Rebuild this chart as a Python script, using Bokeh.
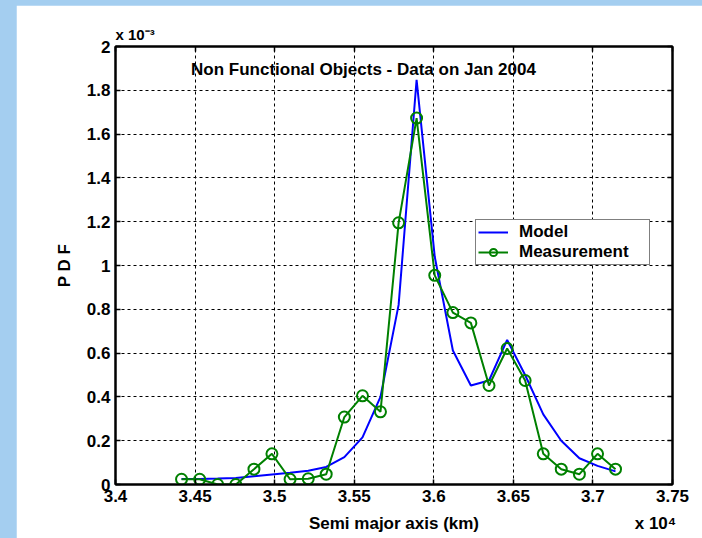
from bokeh.plotting import figure
from bokeh.models import Range1d, FixedTicker, LinearAxis, Label, Legend, LegendItem, Title
from bokeh.layouts import column
from bokeh.embed import file_html
from bokeh.resources import INLINE

# ---- data (x in units of 10^4 km, PDF in units of 10^-3) ----
semi_major_axis = [3.4415, 3.4529, 3.4642, 3.4756, 3.4870, 3.4983, 3.5097, 3.5211,
                   3.5324, 3.5438, 3.5552, 3.5665, 3.5779, 3.5892, 3.6006, 3.6120,
                   3.6233, 3.6347, 3.6461, 3.6574, 3.6688, 3.6801, 3.6915, 3.7029, 3.7142]
model_pdf = [0.025, 0.025, 0.027, 0.030, 0.038, 0.046, 0.054, 0.063, 0.080, 0.125,
             0.215, 0.400, 0.820, 1.848, 1.040, 0.612, 0.452, 0.475, 0.660, 0.500,
             0.320, 0.200, 0.120, 0.085, 0.060]
measurement_pdf = [0.024, 0.024, 0.000, 0.000, 0.070, 0.140, 0.024, 0.026, 0.047, 0.308,
                   0.405, 0.332, 1.195, 1.673, 0.955, 0.785, 0.738, 0.452, 0.621, 0.475,
                   0.140, 0.070, 0.047, 0.140, 0.070]

x_ticks = [3.4, 3.45, 3.5, 3.55, 3.6, 3.65, 3.7, 3.75]
x_tick_labels = ["3.4", "3.45", "3.5", "3.55", "3.6", "3.65", "3.7", "3.75"]
y_ticks = [0, 0.2, 0.4, 0.6, 0.8, 1, 1.2, 1.4, 1.6, 1.8, 2]
y_tick_labels = ["0", "0.2", "0.4", "0.6", "0.8", "1", "1.2", "1.4", "1.6", "1.8", "2"]

title_text = "Non Functional Objects - Data on Jan 2004"
x_label = "Semi major axis (km)"
y_label = "P D F"
x_multiplier = "x 10\u2074"
y_multiplier = "x 10\u207b\u00b3"
series_names = ["Model", "Measurement"]

FONT = "Liberation Sans"
BLUE = "#0000ff"
GREEN = "#008000"

p = figure(width=686, height=533, x_range=Range1d(3.4, 3.75), y_range=Range1d(0, 2),
           output_backend="svg", toolbar_location=None,
           min_border_left=99, min_border_right=30, min_border_top=41, min_border_bottom=54,
           background_fill_color="white", border_fill_color="white",
           outline_line_color="black", outline_line_width=2)

def style_axis(ax, ticks, labels, show_labels=True):
    ax.ticker = FixedTicker(ticks=ticks)
    ax.major_label_overrides = dict(zip(ticks, labels))
    ax.major_tick_in = 5
    ax.major_tick_out = 0
    ax.major_tick_line_width = 1.5
    ax.major_tick_line_color = "black"
    ax.minor_tick_line_color = None
    ax.axis_line_color = "black"
    ax.axis_line_width = 2
    ax.major_label_text_font = FONT
    ax.major_label_text_font_style = "bold"
    ax.major_label_text_color = "black"
    if show_labels:
        ax.major_label_text_font_size = "17px"
    else:
        ax.major_label_text_font_size = "0px"
        ax.major_label_standoff = 0

xa = p.xaxis[0]
style_axis(xa, x_ticks, x_tick_labels)
xa.major_label_standoff = 5

# second row below the x axis: axis title and the x10^4 multiplier (text only)
label_positions = [3.575, 3.7393]
xlab = LinearAxis(ticker=FixedTicker(ticks=label_positions),
                  major_label_overrides=dict(zip(label_positions, [x_label, x_multiplier])),
                  axis_line_color=None, major_tick_line_color=None, minor_tick_line_color=None,
                  major_label_text_font=FONT, major_label_text_font_style="bold",
                  major_label_text_font_size="17px", major_label_text_color="black",
                  major_label_standoff=3)
p.add_layout(xlab, "below")

ya = p.yaxis[0]
style_axis(ya, y_ticks, y_tick_labels)
ya.major_label_standoff = 5
ya.axis_label = y_label
ya.axis_label_text_font = FONT
ya.axis_label_text_font_style = "bold"
ya.axis_label_text_font_size = "17px"
ya.axis_label_text_color = "black"
ya.axis_label_standoff = 10

top = LinearAxis()
style_axis(top, x_ticks, [""] * len(x_ticks), show_labels=False)
p.add_layout(top, "above")
right = LinearAxis()
style_axis(right, y_ticks, [""] * len(y_ticks), show_labels=False)
p.add_layout(right, "right")

p.add_layout(Title(text=y_multiplier, align="left", offset=0, standoff=7,
                   text_font=FONT, text_font_style="bold", text_font_size="15px",
                   text_color="black"), "above")

for g in (p.xgrid[0], p.ygrid[0]):
    g.grid_line_color = "black"
    g.grid_line_dash = "3 3"
    g.grid_line_width = 1

r_model = p.line(semi_major_axis, model_pdf, line_color=BLUE, line_width=2)
r_meas = p.line(semi_major_axis, measurement_pdf, line_color=GREEN, line_width=2)
r_pts = p.scatter(semi_major_axis, measurement_pdf, marker="circle", size=11,
                  line_color=GREEN, line_width=2, fill_color=None)

legend = Legend(items=[LegendItem(label=series_names[0], renderers=[r_model]),
                       LegendItem(label=series_names[1], renderers=[r_meas, r_pts])],
                location=(360, 219), orientation="vertical",
                border_line_color="black", border_line_width=1,
                background_fill_color="white", background_fill_alpha=1,
                label_text_font=FONT, label_text_font_style="bold",
                label_text_font_size="17px", label_text_color="black",
                label_text_line_height=1.0,
                glyph_width=30, glyph_height=18, label_height=18, label_width=128,
                label_standoff=11, padding=2, spacing=0, margin=0)
p.add_layout(legend)

p.add_layout(Label(x=3.5558, y=1.895, text=title_text, text_align="center",
                   text_baseline="middle", text_font=FONT, text_font_style="bold",
                   text_font_size="17px", text_color="black"))

layout = column(p, styles={"background-color": "#a4cef0", "padding": "5px 0 0 16px",
                           "margin": "0px"})

open("out.html", "w").write(file_html(layout, INLINE))
